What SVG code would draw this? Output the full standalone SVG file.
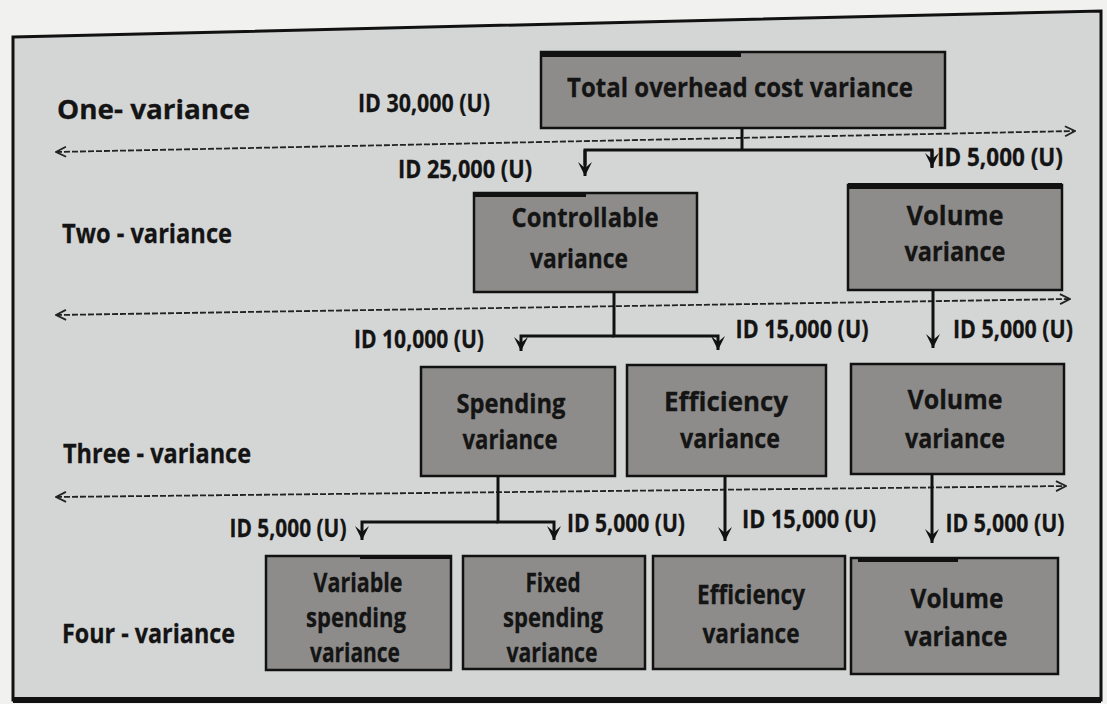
<svg xmlns="http://www.w3.org/2000/svg" width="1107" height="704" viewBox="0 0 1107 704">
<style>
.box{fill:#8d8c8a;stroke:#111;stroke-width:2.5}
.strip{fill:#111}
.t{font-family:"Open Sans",Lato,"Liberation Sans",sans-serif;font-weight:bold;fill:#141414;text-anchor:middle;stroke:#141414;stroke-width:0.3}
.n{font-size:27px}
.lab{font-size:25px}
.lvl{font-size:27px;text-anchor:start}
.con{fill:none;stroke:#111;stroke-width:3}
.dash{fill:none;stroke:#222;stroke-width:1.8;stroke-dasharray:6 2}
</style>
<defs>
<marker id="oh" viewBox="0 0 12 12" refX="11" refY="6" markerWidth="12" markerHeight="12" markerUnits="userSpaceOnUse" orient="auto-start-reverse">
<path d="M1,1 L11,6 L1,11" fill="none" stroke="#222" stroke-width="1.8"/>
</marker>
<marker id="dn" viewBox="0 0 16 18" refX="8" refY="18" markerWidth="16" markerHeight="18" markerUnits="userSpaceOnUse" orient="0">
<path d="M8,18 L1,4 L8,10 L15,4 Z" fill="#111"/>
</marker>
</defs>
<rect x="0" y="0" width="1107" height="704" fill="#f1f1ef"/>
<polygon points="13,37 1101,11 1101,700 13,700" fill="#d4d6d6" stroke="#111" stroke-width="3"/>
<line x1="13" y1="700" x2="1101" y2="700" stroke="#111" stroke-width="6"/>

<g id="levels">
<text class="t lvl" x="57" y="119" textLength="193" lengthAdjust="spacingAndGlyphs">One- variance</text>
<text class="t lvl" x="62" y="243" textLength="170" lengthAdjust="spacingAndGlyphs">Two - variance</text>
<text class="t lvl" x="63" y="463" textLength="188" lengthAdjust="spacingAndGlyphs">Three - variance</text>
<text class="t lvl" x="62" y="643" textLength="173" lengthAdjust="spacingAndGlyphs">Four - variance</text>
</g>

<g id="dividers">
<line class="dash" x1="56" y1="152" x2="1075" y2="131" marker-start="url(#oh)" marker-end="url(#oh)"/>
<line class="dash" x1="56" y1="315" x2="1070" y2="299" marker-start="url(#oh)" marker-end="url(#oh)"/>
<line class="dash" x1="56" y1="497" x2="1066" y2="486" marker-start="url(#oh)" marker-end="url(#oh)"/>
</g>

<g id="connectors">
<path class="con" d="M742,128 V150"/>
<path class="con" d="M585,165 V150 H932 V168"/>
<path class="con" d="M585,150 V176" marker-end="url(#dn)"/>
<path class="con" d="M932,150 V167" marker-end="url(#dn)"/>
<path class="con" d="M614,292 V336 H718 V350" marker-end="url(#dn)"/>
<path class="con" d="M614,336 H521 V351" marker-end="url(#dn)"/>
<path class="con" d="M933,290 V348" marker-end="url(#dn)"/>
<path class="con" d="M498,476 V522 H554 V540" marker-end="url(#dn)"/>
<path class="con" d="M498,522 H362 V540" marker-end="url(#dn)"/>
<path class="con" d="M725,476 V541" marker-end="url(#dn)"/>
<path class="con" d="M932,474 V543" marker-end="url(#dn)"/>
</g>

<g id="amounts">
<text class="t lab" x="424" y="112" textLength="132" lengthAdjust="spacingAndGlyphs">ID 30,000 (U)</text>
<text class="t lab" x="465" y="178" textLength="134" lengthAdjust="spacingAndGlyphs">ID 25,000 (U)</text>
<text class="t lab" x="1000" y="166" textLength="126" lengthAdjust="spacingAndGlyphs">ID 5,000 (U)</text>
<text class="t lab" x="419" y="348" textLength="130" lengthAdjust="spacingAndGlyphs">ID 10,000 (U)</text>
<text class="t lab" x="802" y="338" textLength="133" lengthAdjust="spacingAndGlyphs">ID 15,000 (U)</text>
<text class="t lab" x="1013" y="338" textLength="120" lengthAdjust="spacingAndGlyphs">ID 5,000 (U)</text>
<text class="t lab" x="288" y="537" textLength="117" lengthAdjust="spacingAndGlyphs">ID 5,000 (U)</text>
<text class="t lab" x="626" y="532" textLength="118" lengthAdjust="spacingAndGlyphs">ID 5,000 (U)</text>
<text class="t lab" x="809" y="528" textLength="134" lengthAdjust="spacingAndGlyphs">ID 15,000 (U)</text>
<text class="t lab" x="1005" y="532" textLength="119" lengthAdjust="spacingAndGlyphs">ID 5,000 (U)</text>
</g>

<g id="total">
<rect class="box" x="541" y="52" width="404" height="76"/>
<rect class="strip" x="541" y="51" width="200" height="6"/>
<text class="t n" x="740" y="97" font-size="31" textLength="346" lengthAdjust="spacingAndGlyphs">Total overhead cost variance</text>
</g>

<g id="controllable">
<rect class="box" x="474" y="193" width="223" height="99"/>
<rect class="strip" x="474" y="192" width="112" height="5"/>
<text class="t n" x="585" y="227" textLength="147" lengthAdjust="spacingAndGlyphs">Controllable</text>
<text class="t n" x="579" y="268" textLength="98" lengthAdjust="spacingAndGlyphs">variance</text>
</g>

<g id="volume2">
<rect class="box" x="848" y="185" width="214" height="105"/>
<rect class="strip" x="848" y="183" width="214" height="6"/>
<text class="t n" x="955" y="225" textLength="97" lengthAdjust="spacingAndGlyphs">Volume</text>
<text class="t n" x="955" y="261" textLength="101" lengthAdjust="spacingAndGlyphs">variance</text>
</g>

<g id="spending">
<rect class="box" x="421" y="367" width="194" height="109"/>
<text class="t n" x="511" y="413" textLength="109" lengthAdjust="spacingAndGlyphs">Spending</text>
<text class="t n" x="510" y="449" textLength="95" lengthAdjust="spacingAndGlyphs">variance</text>
</g>

<g id="efficiency3">
<rect class="box" x="627" y="365" width="199" height="111"/>
<text class="t n" x="726" y="411" textLength="124" lengthAdjust="spacingAndGlyphs">Efficiency</text>
<text class="t n" x="730" y="448" textLength="100" lengthAdjust="spacingAndGlyphs">variance</text>
</g>

<g id="volume3">
<rect class="box" x="851" y="364" width="213" height="110"/>
<text class="t n" x="955" y="409" textLength="95" lengthAdjust="spacingAndGlyphs">Volume</text>
<text class="t n" x="955" y="448" textLength="100" lengthAdjust="spacingAndGlyphs">variance</text>
</g>

<g id="varspend">
<rect class="box" x="266" y="556" width="185" height="114"/>
<rect class="strip" x="360" y="555" width="91" height="4"/>
<text class="t n" x="358" y="592" textLength="89" lengthAdjust="spacingAndGlyphs">Variable</text>
<text class="t n" x="356" y="627" textLength="100" lengthAdjust="spacingAndGlyphs">spending</text>
<text class="t n" x="355" y="662" textLength="90" lengthAdjust="spacingAndGlyphs">variance</text>
</g>

<g id="fixspend">
<rect class="box" x="463" y="556" width="182" height="113"/>
<text class="t n" x="553" y="592" textLength="55" lengthAdjust="spacingAndGlyphs">Fixed</text>
<text class="t n" x="553" y="627" textLength="100" lengthAdjust="spacingAndGlyphs">spending</text>
<text class="t n" x="552" y="662" textLength="91" lengthAdjust="spacingAndGlyphs">variance</text>
</g>

<g id="efficiency4">
<rect class="box" x="653" y="556" width="192" height="113"/>
<text class="t n" x="751" y="604" textLength="108" lengthAdjust="spacingAndGlyphs">Efficiency</text>
<text class="t n" x="751" y="643" textLength="97" lengthAdjust="spacingAndGlyphs">variance</text>
</g>

<g id="volume4">
<rect class="box" x="851" y="558" width="207" height="116"/>
<rect class="strip" x="858" y="557" width="100" height="5"/>
<text class="t n" x="957" y="608" textLength="93" lengthAdjust="spacingAndGlyphs">Volume</text>
<text class="t n" x="956" y="646" textLength="103" lengthAdjust="spacingAndGlyphs">variance</text>
</g>
</svg>
